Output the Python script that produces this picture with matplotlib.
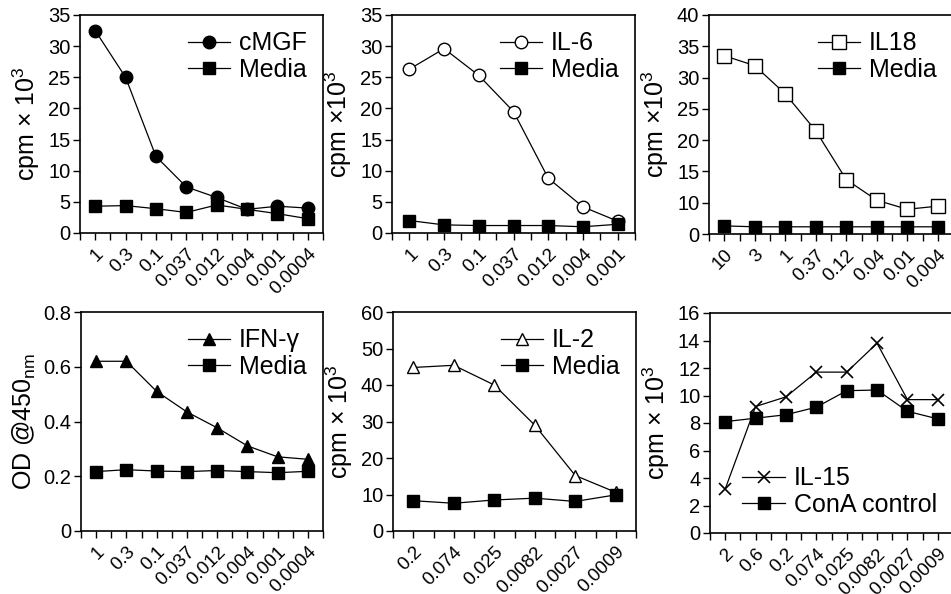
import numpy as np
import matplotlib
matplotlib.use("Agg")
import matplotlib.pyplot as plt

plt.rcParams['font.family'] = ['Liberation Sans', 'DejaVu Sans']
plt.rcParams['mathtext.fontset'] = 'custom'
plt.rcParams['mathtext.rm'] = 'Liberation Sans'
plt.rcParams['mathtext.it'] = 'Liberation Sans:italic'

# ---- data ----
cmgf_labels = ["1", "0.3", "0.1", "0.037", "0.012", "0.004", "0.001", "0.0004"]
cmgf_vals = [32.5, 25.0, 12.3, 7.4, 5.7, 3.8, 4.3, 4.0]
cmgf_media = [4.3, 4.4, 3.9, 3.3, 4.5, 3.8, 3.1, 2.3]

il6_labels = ["1", "0.3", "0.1", "0.037", "0.012", "0.004", "0.001"]
il6_vals = [26.3, 29.6, 25.3, 19.5, 8.8, 4.2, 1.9]
il6_media = [2.0, 1.3, 1.2, 1.2, 1.2, 1.0, 1.4]

il18_labels = ["10", "3", "1", "0.37", "0.12", "0.04", "0.01", "0.004"]
il18_vals = [33.5, 31.9, 27.4, 21.5, 13.7, 10.4, 7.9, 8.9]
il18_media = [2.6, 2.3, 2.3, 2.3, 2.3, 2.3, 2.3, 2.3]
il18_ticks = [0, 10, 15, 20, 25, 30, 35, 40]

ifn_labels = ["1", "0.3", "0.1", "0.037", "0.012", "0.004", "0.001", "0.0004"]
ifn_vals = [0.62, 0.62, 0.51, 0.435, 0.377, 0.311, 0.271, 0.262]
ifn_media = [0.217, 0.224, 0.219, 0.217, 0.221, 0.217, 0.213, 0.218]

il2_labels = ["0.2", "0.074", "0.025", "0.0082", "0.0027", "0.0009"]
il2_vals = [44.8, 45.4, 40.0, 29.0, 15.2, 10.6]
il2_media = [8.3, 7.6, 8.5, 9.0, 8.1, 9.9]

il15_labels = ["2", "0.6", "0.2", "0.074", "0.025", "0.0082", "0.0027", "0.0009"]
il15_vals = [3.2, 9.2, 9.9, 11.7, 11.7, 13.8, 9.7, 9.7]
cona_vals = [8.1, 8.35, 8.6, 9.15, 10.35, 10.4, 8.85, 8.3]

W, H = 951, 594
fig = plt.figure(figsize=(W / 100, H / 100), dpi=100)


def make_ax(l, r, t, b):
    return fig.add_axes([l / W, 1 - b / H, (r - l) / W, (b - t) / H])


def style(ax, labels, ylabel, ymax, ystep):
    n = len(labels)
    ax.set_xlim(-0.5, n - 0.5)
    ax.set_xticks(np.arange(n))
    ax.set_xticks(np.arange(-0.5, n, 1.0), minor=True)
    ax.set_xticklabels(labels, rotation=45, ha='right', rotation_mode='anchor', fontsize=13.5)
    ax.tick_params(axis='x', which='both', direction='out', length=5, width=1.0, pad=4)
    ax.tick_params(axis='y', direction='out', length=5, width=1.0, labelsize=14.5, pad=2)
    if ymax is not None:
        ax.set_ylim(0, ymax)
        ax.set_yticks(np.arange(0, ymax + ystep / 2, ystep))
    ax.set_ylabel(ylabel, fontsize=18, labelpad=4)
    for s in ax.spines.values():
        s.set_linewidth(1.2)


lw = 0.9
leg_kw = dict(frameon=False, fontsize=18, handlelength=1.7, handletextpad=0.35,
              labelspacing=0.1, borderaxespad=0.35, borderpad=0.3)

# Panel 1: cMGF
ax = make_ax(80, 323, 15, 233)
x = np.arange(len(cmgf_labels))
ax.plot(x, cmgf_vals, '-o', color='black', lw=lw, ms=9, mfc='black', label='cMGF')
ax.plot(x, cmgf_media, '-s', color='black', lw=lw, ms=9, mfc='black', label='Media')
style(ax, cmgf_labels, 'cpm $\\times$ 10$^3$', 35, 5)
ax.legend(loc='upper right', **leg_kw)

# Panel 2: IL-6
ax = make_ax(392, 635, 15, 233)
x = np.arange(len(il6_labels))
ax.plot(x, il6_vals, '-o', color='black', lw=lw, ms=9, mfc='white', label='IL-6')
ax.plot(x, il6_media, '-s', color='black', lw=lw, ms=9, mfc='black', label='Media')
style(ax, il6_labels, 'cpm $\\times$10$^3$', 35, 5)
ax.legend(loc='upper right', **leg_kw)

# Panel 3: IL18 (compressed 0-10 segment)
ax = make_ax(709, 953, 15, 234)
x = np.arange(len(il18_labels))
fwd = lambda y: np.where(np.asarray(y) < 10, 5 + np.asarray(y) / 2.0, np.asarray(y))
inv = lambda v: np.where(np.asarray(v) < 10, (np.asarray(v) - 5) * 2.0, np.asarray(v))
ax.set_yscale('function', functions=(fwd, inv))
ax.plot(x, il18_vals, '-s', color='black', lw=lw, ms=9.5, mfc='white', label='IL18')
ax.plot(x, il18_media, '-s', color='black', lw=lw, ms=9, mfc='black', label='Media')
style(ax, il18_labels, 'cpm $\\times$10$^3$', None, None)
ax.set_ylim(0, 40)
ax.set_yticks(il18_ticks)
ax.set_yticklabels([str(t) for t in il18_ticks])
ax.yaxis.set_minor_locator(matplotlib.ticker.NullLocator())
ax.legend(loc='upper right', **leg_kw)

# Panel 4: IFN-gamma
ax = make_ax(81, 323, 312, 531)
x = np.arange(len(ifn_labels))
ax.plot(x, ifn_vals, '-^', color='black', lw=lw, ms=9, mfc='black', label='IFN-γ')
ax.plot(x, ifn_media, '-s', color='black', lw=lw, ms=9, mfc='black', label='Media')
style(ax, ifn_labels, 'OD @450$_{\\rm nm}$', 0.8, 0.2)
ax.set_yticklabels(['0', '0.2', '0.4', '0.6', '0.8'])
ax.legend(loc='upper right', **leg_kw)

# Panel 5: IL-2
ax = make_ax(393, 636, 312, 531)
x = np.arange(len(il2_labels))
ax.plot(x, il2_vals, '-^', color='black', lw=lw, ms=9, mfc='white', label='IL-2')
ax.plot(x, il2_media, '-s', color='black', lw=lw, ms=9, mfc='black', label='Media')
style(ax, il2_labels, 'cpm $\\times$ 10$^3$', 60, 10)
ax.legend(loc='upper right', **leg_kw)

# Panel 6: IL-15
ax = make_ax(710, 953, 313, 533)
x = np.arange(len(il15_labels))
ax.plot(x, il15_vals, '-x', color='black', lw=lw, ms=9, mew=1.2, label='IL-15')
ax.plot(x, cona_vals, '-s', color='black', lw=lw, ms=9, mfc='black', label='ConA control')
style(ax, il15_labels, 'cpm $\\times$ 10$^3$', 16, 2)
ax.legend(loc='lower right', **leg_kw)

fig.savefig('out.png', dpi=100)
